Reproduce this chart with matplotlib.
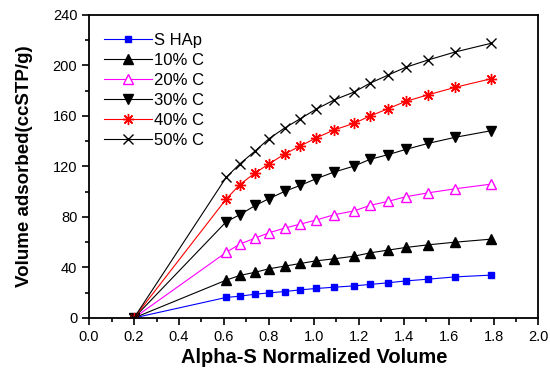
import matplotlib.pyplot as plt
from matplotlib.ticker import MultipleLocator

plt.rcParams['font.family'] = ['Liberation Sans', 'DejaVu Sans']

# alpha-S normalized volume (first point is the common origin at 0.2)
alpha_s = [0.2, 0.61, 0.67, 0.74, 0.80, 0.87, 0.94, 1.01, 1.09, 1.18, 1.25,
           1.33, 1.41, 1.51, 1.63, 1.79]

s_hap = [0, 16.2, 17.2, 18.8, 19.8, 20.9, 22.2, 23.3, 24.3, 25.4, 26.5,
         27.8, 29.3, 30.7, 32.5, 33.9]
c10 = [0, 29.9, 33.6, 36.2, 38.9, 41.0, 43.1, 45.2, 46.8, 48.9, 51.5,
       53.7, 55.8, 57.9, 60.0, 62.4]
c20 = [0, 51.9, 58.4, 63.3, 67.4, 71.1, 74.3, 77.5, 81.7, 84.8, 89.1,
       92.3, 96.0, 99.1, 102.3, 106.0]
c30 = [0, 76.1, 81.7, 89.1, 94.4, 100.2, 105.0, 110.2, 115.5, 120.3, 125.6,
       129.3, 133.5, 138.3, 143.1, 148.3]
c40 = [0, 94.1, 105.5, 115.0, 121.9, 129.8, 136.2, 142.5, 148.9, 154.2, 159.9,
       165.7, 171.6, 176.8, 182.7, 189.5]
c50 = [0, 111.3, 121.9, 132.4, 141.9, 150.4, 157.8, 165.3, 172.6, 179.0, 185.9,
       192.3, 198.6, 204.4, 210.7, 217.6]

fig = plt.figure(figsize=(5.5, 3.74), dpi=100)
ax = fig.add_axes([0.162, 0.150, 0.817, 0.810])

ax.plot(alpha_s, s_hap, color='blue', lw=0.8, marker='s', ms=5,
        mfc='blue', mec='blue', label='S HAp')
ax.plot(alpha_s, c10, color='black', lw=0.8, marker='^', ms=7.5,
        mfc='black', mec='black', label='10% C')
ax.plot(alpha_s, c20, color='magenta', lw=0.8, marker='^', ms=7.5,
        mfc='white', mec='magenta', label='20% C')
ax.plot(alpha_s, c30, color='black', lw=0.8, marker='v', ms=7.5,
        mfc='black', mec='black', label='30% C')
ax.plot(alpha_s, c40, color='red', lw=0.8, marker=(8, 2, 0), ms=8,
        mec='red', label='40% C')
ax.plot(alpha_s, c50, color='black', lw=0.8, marker='x', ms=7,
        mec='black', label='50% C')

ax.set_xlim(0.0, 2.0)
ax.set_ylim(0, 240)
ax.xaxis.set_major_locator(MultipleLocator(0.2))
ax.xaxis.set_minor_locator(MultipleLocator(0.1))
ax.yaxis.set_major_locator(MultipleLocator(40))
ax.yaxis.set_minor_locator(MultipleLocator(20))
ax.tick_params(which='both', direction='out', top=False, right=False,
               labelsize=10.5, width=1.2)
ax.tick_params(which='major', length=5)
ax.tick_params(which='minor', length=3)
for s in ax.spines.values():
    s.set_linewidth(1.3)

ax.set_xlabel('Alpha-S Normalized Volume', fontsize=14.5, fontweight='bold',
              labelpad=3)
ax.set_ylabel('Volume adsorbed(ccSTP/g)', fontsize=13.5, fontweight='bold',
              labelpad=14)

ax.legend(loc='upper left', frameon=False, fontsize=12, handlelength=2.9,
          handletextpad=0.1, labelspacing=0.3, borderaxespad=0.5,
          bbox_to_anchor=(0.0, 0.99))

fig.savefig('out.png', dpi=100)
